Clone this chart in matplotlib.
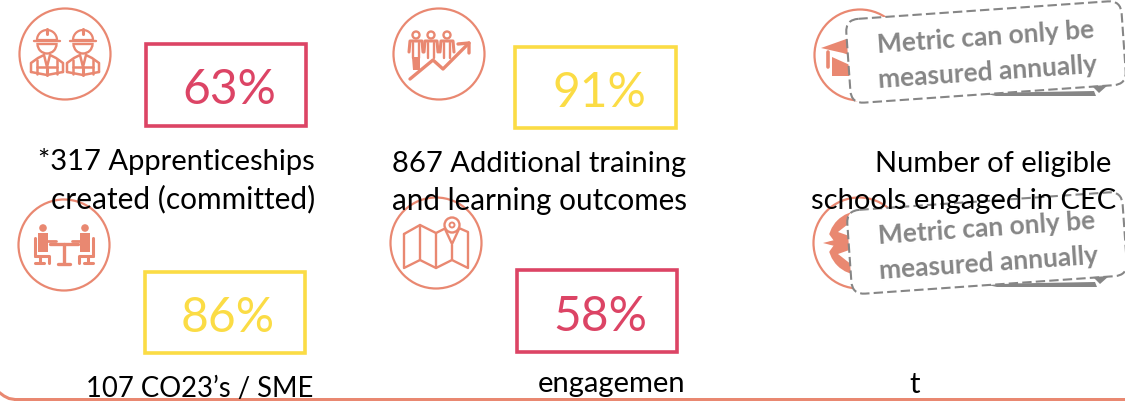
import matplotlib
matplotlib.use('Agg')
import matplotlib.pyplot as plt
from matplotlib.patches import Circle, FancyBboxPatch, Polygon, Rectangle, Wedge
from matplotlib.transforms import Affine2D

# Values
percent_values = [63, 91, 86, 58]
percent_status = ['red', 'yellow', 'yellow', 'red']
caption_lines = [
    '*317 Apprenticeships', 'created (committed)',
    '867 Additional training', 'and learning outcomes',
    'Number of eligible', 'schools engaged in CEC',
    '107 CO23\u2019s / SME', 'engagemen', 't',
]
callout_lines = ['Metric can only be', 'measured annually']

# Layout in image pixels
box_rects = [(146, 44, 160, 82), (515, 47, 161, 81), (145, 272, 160, 81), (517, 270, 160, 82)]
percent_xy = [(229, 104), (599, 107), (228, 332), (600, 331)]
caption_xy = [(176, 170), (183, 208), (539, 172), (539, 210), (993, 172), (964, 209),
              (200, 397), (612, 392), (915, 393)]
caption_sizes = [21, 21.5, 21, 21.3, 21, 21, 19.8, 21, 21]
circle_xy = [(65, 54), (439, 54), (860, 55), (64, 245), (436, 243), (859, 243)]
callout_xy = [(986, 52), (987, 243)]

RED = '#DC4465'
YELLOW = '#FBDC45'
SALMON = '#E98871'
GREY = '#868686'
STATUS_COLORS = {'red': RED, 'yellow': YELLOW}
FONT = 'Lato'


def line(ax, xs, ys, lw=1.6, z=3):
    ax.plot(xs, ys, color=SALMON, lw=lw, solid_capstyle='round', solid_joinstyle='round', zorder=z)


def fill(ax, pts, z=3, color=SALMON):
    ax.add_patch(Polygon(pts, closed=True, fc=color, ec='none', zorder=z))


def worker(ax, cx):
    # helmet, face and vest of one worker
    ax.add_patch(Wedge((cx, 40), 10, 180, 360, fc='none', ec=SALMON, lw=1.6, zorder=3))
    line(ax, [cx - 13, cx + 13], [40.5, 40.5], lw=1.7)
    line(ax, [cx, cx], [29, 34], lw=2.2)
    ax.add_patch(Wedge((cx, 44), 9.5, 0, 180, fc='none', ec=SALMON, lw=1.7, zorder=3))
    line(ax, [cx - 16, cx - 16, cx - 9, cx - 3, cx, cx + 3, cx + 9, cx + 16, cx + 16],
         [72, 63, 58, 55, 67, 55, 58, 63, 72], lw=1.8)
    line(ax, [cx - 16, cx, cx + 16], [72, 75, 72], lw=1.8)
    line(ax, [cx - 10, cx - 10], [60, 74], lw=1.8)
    line(ax, [cx + 10, cx + 10], [60, 74], lw=1.8)
    line(ax, [cx - 10, cx + 10], [67, 67], lw=1.8)
    line(ax, [cx, cx], [67, 75], lw=2.2)


def draw_workers(ax):
    worker(ax, 47)
    worker(ax, 83)


def draw_growth(ax):
    for cx in (416, 431, 447):
        ax.add_patch(Circle((cx, 35), 3.5, fc='none', ec=SALMON, lw=1.7, zorder=3))
        line(ax, [cx - 7, cx - 6, cx + 6, cx + 7], [52, 41, 41, 52], lw=2.2)
        line(ax, [cx - 3, cx - 3], [43, 58], lw=1.7)
        line(ax, [cx + 3, cx + 3], [43, 58], lw=1.7)
    fill(ax, [(412, 57), (420, 57), (420, 70), (413, 70)])
    line(ax, [410, 433, 443, 469], [79, 60, 69, 43], lw=2.4)
    line(ax, [458, 469, 469], [44, 43, 53], lw=2.4)


def draw_cap(ax):
    fill(ax, [(821, 48), (852, 37), (852, 56), (843, 53)])
    fill(ax, [(832, 57), (852, 66), (852, 76), (832, 76)])
    line(ax, [828, 828], [52, 67], lw=2.6)


def draw_meeting(ax):
    for side in (-1, 1):
        cx = 64 + side * 21
        ax.add_patch(Circle((cx, 228), 3.8, fc=SALMON, ec='none', zorder=3))
        fill(ax, [(cx - 5, 233), (cx + 5, 233), (cx + 5, 252), (cx - 5, 252)])
        line(ax, [cx - side, cx - side * 13], [241, 241], lw=2)
        line(ax, [cx + side * 8, cx + side * 8], [238, 256], lw=2.2)
        line(ax, [cx + side * 8, cx - side * 6, cx - side * 6], [256, 256, 263], lw=2.2)
        line(ax, [cx + side * 3, cx + side * 3], [256, 263], lw=2.2)
        line(ax, [cx - side * 1, cx + side * 8], [263, 263], lw=2.2)
    line(ax, [50, 78], [244, 244], lw=2.4)
    line(ax, [64, 64], [244, 263], lw=2.4)
    line(ax, [58, 70], [264, 264], lw=2.4)


def draw_map(ax):
    xs = [404, 420, 436, 452, 468, 468, 452, 436, 420, 404, 404]
    ys = [234, 225, 233, 225, 232, 268, 260, 268, 260, 268, 234]
    line(ax, xs, ys, lw=1.7)
    line(ax, [420, 420], [225, 260], lw=1.7)
    line(ax, [436, 436], [233, 268], lw=1.7)
    line(ax, [452, 452], [245, 260], lw=1.7)
    ax.add_patch(Circle((452, 225), 7.5, fc='white', ec=SALMON, lw=1.7, zorder=3.5))
    fill(ax, [(445, 229), (459, 229), (452, 245)], z=3.4, color='white')
    line(ax, [445, 452, 459], [229, 244, 229], lw=1.7, z=3.6)
    ax.add_patch(Circle((452, 225), 2.5, fc='none', ec=SALMON, lw=1.4, zorder=3.6))


def draw_compass(ax):
    ax.add_patch(Wedge((860, 243), 32, 90, 270, fc=SALMON, ec='none', zorder=3))
    fill(ax, [(838, 232), (852, 221), (852, 237)], z=3.1, color='white')
    fill(ax, [(838, 254), (852, 265), (852, 249)], z=3.1, color='white')
    fill(ax, [(823, 243), (850, 236), (850, 250)], z=3.2)
    fill(ax, [(823, 243), (829, 234), (834, 241)], z=3.1, color='white')
    fill(ax, [(823, 243), (829, 252), (834, 245)], z=3.1, color='white')


def draw_callout(ax, center, text_lines):
    cx, cy = center
    rotate = Affine2D().rotate_deg_around(cx, cy, -4) + ax.transData
    # grey shadow stroke and tail under the dashed outline
    fill(ax, [(cx - 4, cy + 41), (cx + 108, cy + 39), (cx + 110, cy + 44), (cx + 10, cy + 44)], z=4, color=GREY)
    box = FancyBboxPatch((cx - 138, cy - 42), 276, 84,
                         boxstyle='round,pad=0,rounding_size=13',
                         fc='white', ec=GREY, lw=1.5, linestyle=(0, (4.5, 2)), zorder=5)
    box.set_transform(rotate)
    ax.add_patch(box)
    fill(ax, [(cx + 106, cy + 34), (cx + 122, cy + 33), (cx + 113, cy + 41)], z=6, color=GREY)
    ax.text(cx, cy - 15, text_lines[0], rotation=4, rotation_mode='anchor', ha='center', va='center',
            fontsize=19, fontweight='bold', color=GREY, family=FONT, zorder=6)
    ax.text(cx + 2, cy + 20, text_lines[1], rotation=4, rotation_mode='anchor', ha='center', va='center',
            fontsize=19, fontweight='bold', color=GREY, family=FONT, zorder=6)


def main():
    fig = plt.figure(figsize=(11.25, 4.01), dpi=100)
    ax = fig.add_axes([0, 0, 1, 1])
    ax.set_xlim(0, 1125)
    ax.set_ylim(401, 0)
    ax.axis('off')

    # Bottom rule with its rounded left corner
    ax.add_patch(Rectangle((14, 398), 1111, 3, fc=SALMON, ec='none', zorder=1))
    ax.plot([0, 4, 9, 15], [393, 396, 398.5, 399.5], color=SALMON, lw=2.2, zorder=1)

    for xy in circle_xy:
        ax.add_patch(Circle(xy, 45.5, fc='none', ec=SALMON, lw=1.6, zorder=2))

    draw_workers(ax)
    draw_growth(ax)
    draw_cap(ax)
    draw_meeting(ax)
    draw_map(ax)
    draw_compass(ax)

    for value, status, rect, xy in zip(percent_values, percent_status, box_rects, percent_xy):
        color = STATUS_COLORS[status]
        x, y, w, h = rect
        ax.add_patch(Rectangle((x, y), w, h, fc='none', ec=color, lw=2.6, joinstyle='miter', zorder=3))
        ax.text(xy[0], xy[1], f'{value}%', ha='center', va='baseline', fontsize=34.5,
                color=color, family=FONT, fontweight='normal', zorder=4)

    for center in callout_xy:
        draw_callout(ax, center, callout_lines)

    for text, xy, size in zip(caption_lines, caption_xy, caption_sizes):
        ax.text(xy[0], xy[1], text, ha='center', va='baseline', fontsize=size,
                color='black', family=FONT, zorder=8)

    fig.savefig('out.png', dpi=100)


if __name__ == "__main__":
    main()
